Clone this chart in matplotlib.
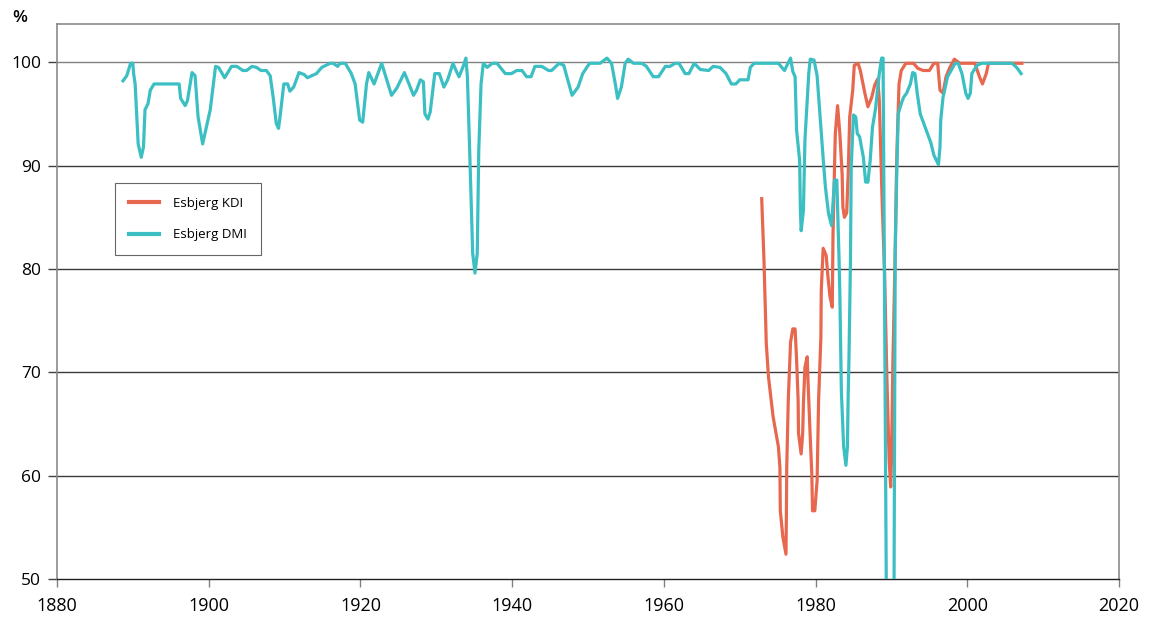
import matplotlib
matplotlib.use("Agg")
import matplotlib.pyplot as plt

# Esbjerg DMI series (year, percent)
dmi_years = [
    1888.7, 1889.2, 1889.7, 1890.0, 1890.1, 1890.3, 1890.6, 1890.7, 1891.1, 1891.4,
    1891.6, 1892.0, 1892.3, 1892.8, 1896.1, 1896.3, 1896.9, 1897.2, 1897.8, 1898.2,
    1898.6, 1899.2, 1900.2, 1900.9, 1901.3, 1902.1, 1903.0, 1903.7, 1904.5, 1905.0,
    1905.7, 1906.3, 1906.9, 1907.6, 1908.1, 1908.5, 1908.9, 1909.2, 1909.4, 1909.9,
    1910.4, 1910.7, 1911.2, 1911.9, 1912.6, 1913.0, 1914.2, 1914.9, 1916.0, 1916.4,
    1917.0, 1917.3, 1918.0, 1918.8, 1919.3, 1919.9, 1920.3, 1920.8, 1921.1, 1921.8,
    1922.8, 1924.1, 1924.8, 1925.8, 1927.0, 1927.4, 1927.9, 1928.3, 1928.5, 1928.9,
    1929.2, 1929.8, 1930.4, 1931.0, 1931.5, 1932.2, 1932.6, 1933.0, 1933.6, 1933.9,
    1934.1, 1934.4, 1934.8, 1935.1, 1935.4, 1935.6, 1935.9, 1936.2, 1936.7, 1937.4,
    1938.0, 1939.1, 1939.9, 1940.6, 1941.3, 1941.9, 1942.5, 1943.0, 1943.9, 1944.8,
    1945.2, 1946.2, 1946.8, 1947.4, 1947.9, 1948.7, 1949.3, 1950.2, 1951.6, 1952.5,
    1953.1, 1953.6, 1953.9, 1954.4, 1954.9, 1955.3, 1956.0, 1957.1, 1957.7, 1958.6,
    1959.3, 1960.2, 1960.8, 1961.5, 1962.0, 1962.8, 1963.3, 1964.0, 1964.8, 1965.9,
    1966.5, 1967.4, 1968.2, 1968.9, 1969.5, 1970.0, 1971.1, 1971.4, 1971.9, 1975.1,
    1975.9, 1976.7, 1977.0, 1977.3, 1977.5, 1977.9, 1978.0, 1978.1, 1978.4, 1978.6,
    1979.1, 1979.3, 1979.8, 1980.2, 1980.6, 1981.0, 1981.3, 1981.7, 1982.1, 1982.5,
    1982.8, 1983.1, 1983.2, 1983.4, 1983.7, 1984.0, 1984.2, 1984.3, 1984.4, 1984.6,
    1984.7, 1985.0, 1985.3, 1985.5, 1985.8, 1986.3, 1986.6, 1986.9, 1987.2, 1987.5,
    1987.9, 1988.4, 1988.7, 1988.9, 1989.4, 1990.3, 1990.5, 1990.7, 1990.9, 1991.3,
    1991.6, 1992.0, 1992.5, 1992.8, 1993.1, 1993.4, 1993.8, 1994.5, 1995.2, 1995.6,
    1996.2, 1996.4, 1996.5, 1996.8, 1997.4, 1998.4, 1998.8, 1999.3, 1999.8, 2000.1,
    2000.4, 2000.6, 2001.3, 2001.9, 2005.9, 2006.5, 2007.1,
]
dmi_values = [
    98.2, 98.7, 99.9, 99.9, 98.9, 97.9, 93.7, 92.1, 90.8, 91.8,
    95.4, 96.0, 97.3, 97.9, 97.9, 96.5, 95.8, 96.3, 99.0, 98.7,
    94.7, 92.1, 95.4, 99.6, 99.5, 98.5, 99.6, 99.6, 99.2, 99.2,
    99.6, 99.5, 99.2, 99.2, 98.7, 96.6, 94.1, 93.6, 94.7, 97.9,
    97.9, 97.2, 97.6, 99.0, 98.8, 98.5, 98.9, 99.5, 99.9, 99.9,
    99.6, 99.9, 99.9, 98.9, 97.9, 94.4, 94.2, 97.9, 99.0, 97.9,
    99.9, 96.8, 97.5, 99.0, 96.8, 97.3, 98.3, 98.1, 95.0, 94.5,
    95.2, 98.9, 98.9, 97.6, 98.3, 99.9, 99.2, 98.6, 99.7, 100.4,
    98.6, 91.5, 81.5, 79.6, 81.5, 91.5, 97.9, 99.9, 99.5, 99.9,
    99.9, 98.9, 98.9, 99.2, 99.2, 98.6, 98.6, 99.6, 99.6, 99.2,
    99.2, 99.9, 99.7, 98.1, 96.8, 97.6, 98.9, 99.9, 99.9, 100.4,
    99.9, 97.9, 96.5, 97.6, 99.9, 100.3, 99.9, 99.9, 99.6, 98.6,
    98.6, 99.6, 99.6, 99.9, 99.9, 98.9, 98.9, 99.9, 99.3, 99.2,
    99.6, 99.5, 98.9, 97.9, 97.9, 98.3, 98.3, 99.5, 99.9, 99.9,
    99.2, 100.4, 99.1, 98.6, 93.4, 90.5, 85.7, 83.7, 85.7, 92.5,
    98.9, 100.3, 100.2, 98.7, 94.7, 90.7, 87.9, 85.4, 84.2, 88.6,
    88.6, 80.8, 77.6, 68.2, 62.8, 61.0, 62.8, 68.0, 71.2, 80.8,
    89.9, 94.9, 94.7, 93.1, 92.8, 90.8, 88.4, 88.4, 90.5, 93.7,
    95.5, 98.9, 100.4, 100.4, 40.0, 40.0, 81.8, 89.2, 95.0, 96.0,
    96.6, 97.0, 97.9, 99.0, 98.9, 97.0, 95.0, 93.6, 92.2, 91.0,
    90.1, 91.8, 94.4, 96.6, 98.6, 99.9, 99.9, 98.9, 97.0, 96.5,
    97.0, 98.9, 99.7, 99.9, 99.9, 99.5, 98.9,
]

# Esbjerg KDI series (year, percent)
kdi_years = [
    1972.9, 1973.2, 1973.5, 1973.8, 1974.4, 1975.1, 1975.3, 1975.35, 1975.7, 1976.1,
    1976.15, 1976.2, 1976.4, 1976.7, 1977.0, 1977.3, 1977.5, 1977.7, 1977.75, 1978.1,
    1978.3, 1978.4, 1978.6, 1978.9, 1979.0, 1979.3, 1979.5, 1979.6, 1979.9, 1980.2,
    1980.4, 1980.7, 1980.75, 1981.0, 1981.4, 1981.6, 1981.9, 1982.2, 1982.3, 1982.6,
    1982.9, 1983.2, 1983.5, 1983.6, 1983.8, 1984.1, 1984.3, 1984.5, 1984.9, 1985.1,
    1985.6, 1985.9, 1986.5, 1986.9, 1987.4, 1987.8, 1988.2, 1988.4, 1988.8, 1989.1,
    1989.4, 1989.7, 1989.9, 1990.0, 1990.2, 1990.5, 1990.7, 1991.0, 1991.3, 1991.9,
    1992.9, 1993.5, 1994.2, 1995.0, 1995.6, 1996.1, 1996.4, 1996.8, 1997.2, 1997.7,
    1998.3, 1999.0, 2001.0, 2001.6, 2002.0, 2002.5, 2002.8, 2007.2,
]
kdi_values = [
    86.8, 80.8, 72.8, 69.5, 65.7, 62.8, 60.8, 56.6, 54.0, 52.4,
    56.0, 60.8, 67.3, 72.9, 74.2, 74.2, 71.2, 67.3, 64.1, 62.1,
    64.1, 67.0, 70.5, 71.5, 69.2, 63.7, 60.2, 56.6, 56.6, 59.5,
    67.3, 73.4, 77.9, 82.0, 81.3, 79.5, 77.3, 76.3, 83.4, 93.1,
    95.8, 93.1, 89.2, 86.0, 85.0, 85.4, 89.2, 94.7, 97.3, 99.7,
    99.9, 99.2, 97.0, 95.7, 96.6, 97.8, 98.4, 96.3, 86.0, 79.6,
    69.5, 61.5, 58.9, 61.5, 71.2, 81.8, 90.8, 97.9, 99.2, 99.9,
    99.9, 99.4, 99.2, 99.2, 99.9, 99.9, 97.3, 97.0, 98.6, 99.5,
    100.3, 99.9, 99.9, 98.6, 97.9, 98.9, 99.9, 99.9,
]

series_labels = ["Esbjerg KDI", "Esbjerg DMI"]
x_ticks = [1880, 1900, 1920, 1940, 1960, 1980, 2000, 2020]
y_ticks = [50, 60, 70, 80, 90, 100]

plt.rcParams["font.family"] = ["Open Sans", "DejaVu Sans"]

fig = plt.figure(figsize=(11.52, 6.17), dpi=100)
ax = fig.add_axes([57 / 1152, 1 - 579 / 617, 1062 / 1152, 555 / 617])

ax.set_xlim(1880, 2020)
ax.set_ylim(50, 103.7)

for y in y_ticks[1:]:
    ax.axhline(y, color="#3a3a3a" if y < 100 else "#808080", lw=1.0, zorder=1)

ax.plot(kdi_years, kdi_values, color="#E8674F", lw=2.3, label=series_labels[0],
        zorder=3, solid_joinstyle="round")
ax.plot(dmi_years, dmi_values, color="#3BBFC2", lw=2.3, label=series_labels[1],
        zorder=4, solid_joinstyle="round")

ax.set_xticks(x_ticks)
ax.set_yticks(y_ticks)
ax.tick_params(axis="x", direction="out", length=6, width=1, color="#808080",
               pad=7, labelsize=13)
ax.tick_params(axis="y", direction="out", length=6.5, width=1, color="#404040",
               pad=5, labelsize=12.5)

for side in ["left", "top", "right"]:
    ax.spines[side].set_color("#8a8a8a")
    ax.spines[side].set_linewidth(1.2)
ax.spines["bottom"].set_color("#202020")
ax.spines["bottom"].set_linewidth(1.0)

fig.text(12 / 1152, 1 - 18 / 617, "%", fontsize=12.5, fontweight="semibold",
         va="center", ha="left")

leg = ax.legend(loc="upper left", bbox_to_anchor=(58 / 1062, (579 - 183) / 555),
                borderaxespad=0, frameon=True, fancybox=False, fontsize=9.5,
                handlelength=2.3, handletextpad=1.05, labelspacing=1.4,
                borderpad=1.05)
leg.get_frame().set_edgecolor("#404040")
leg.get_frame().set_linewidth(0.8)
for line in leg.get_lines():
    line.set_linewidth(3)

fig.savefig("out.png", dpi=100, facecolor="white")
